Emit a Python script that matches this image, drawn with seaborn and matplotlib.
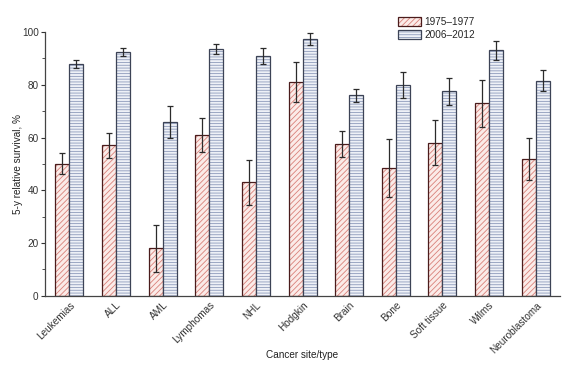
import pandas as pd
import numpy as np
import matplotlib
matplotlib.use("Agg")
import matplotlib.pyplot as plt
import matplotlib.colors as mcolors
from matplotlib.ticker import MultipleLocator
import seaborn as sns

# =====================================================
# Data
# =====================================================

sites = [
    "Leukemias", "ALL", "AML", "Lymphomas", "NHL", "Hodgkin",
    "Brain", "Bone", "Soft tissue", "Wilms", "Neuroblastoma"
]
periods = ["1975\u20131977", "2006\u20132012"]

surv_1975 = [50, 57, 18, 61, 43, 81, 57.5, 48.5, 58, 73, 52]
err_1975 = [4, 4.7, 9, 6.3, 8.5, 7.5, 5, 11, 8.5, 9, 8]

surv_2006 = [88, 92.4, 66, 93.5, 91, 97.5, 76, 80, 77.5, 93, 81.5]
err_2006 = [1.5, 1.5, 6, 2, 3, 2.3, 2.5, 5, 5, 3.5, 4]

df = pd.DataFrame({
    "site": sites * 2,
    "period": [periods[0]] * len(sites) + [periods[1]] * len(sites),
    "survival": surv_1975 + surv_2006,
    "err": err_1975 + err_2006,
})

# =====================================================
# Style
# =====================================================

sns.set_theme(style="white")
plt.rcParams["font.family"] = ["Liberation Sans", "DejaVu Sans"]
plt.rcParams["hatch.linewidth"] = 0.6

fills = ["#fbebe8", "#eef1f7"]
hatch_cols = ["#d9817a", "#8e9bbb"]
edge_cols = ["#4a1c1c", "#3c4356"]
hatches = ["//////", "------"]

fig = plt.figure(figsize=(5.66, 3.68), dpi=100)
ax = fig.add_axes([0.0795, 0.196, 0.91, 0.717])

sns.barplot(
    data=df,
    x="site",
    y="survival",
    hue="period",
    order=sites,
    hue_order=periods,
    errorbar=None,
    width=0.6,
    gap=0,
    palette=fills,
    saturation=1,
    ax=ax,
)

# hatch styling + error bars from the drawn bar positions
errs = [err_1975, err_2006]
bar_containers = list(ax.containers)
for i, container in enumerate(bar_containers):
    xs = []
    ys = []
    for bar in container.patches:
        bar.set_facecolor(fills[i])
        bar.set_edgecolor(edge_cols[i])
        bar.set_linewidth(0.9)
        bar.set_hatch(hatches[i])
        bar._hatch_color = mcolors.to_rgba(hatch_cols[i])
        xs.append(bar.get_x() + bar.get_width() / 2)
        ys.append(bar.get_height())
    ax.errorbar(
        xs, ys, yerr=errs[i],
        fmt="none", ecolor="#2b2b2b",
        elinewidth=0.9, capsize=2, capthick=0.9
    )

ax.set_ylim(0, 100)
ax.set_xlim(-0.52, len(sites) - 0.48)
ax.yaxis.set_major_locator(MultipleLocator(20))
ax.yaxis.set_minor_locator(MultipleLocator(10))

ax.tick_params(axis="y", which="major", direction="out", length=3,
               width=0.8, left=True, labelsize=7.2, colors="#333333", pad=1.5)
ax.tick_params(axis="y", which="minor", direction="out", length=2,
               width=0.6, left=True, colors="#333333")
ax.tick_params(axis="x", length=0, labelsize=7.2, colors="#333333", pad=3)

plt.setp(ax.get_xticklabels(), rotation=45, ha="right",
         rotation_mode="anchor")

for side in ["top", "right"]:
    ax.spines[side].set_visible(False)
for side in ["left", "bottom"]:
    ax.spines[side].set_color("#444444")
    ax.spines[side].set_linewidth(0.9)

ax.set_xlabel("Cancer site/type", fontsize=7.2, color="#222222")
ax.xaxis.set_label_coords(0.5, -0.205)
ax.set_ylabel("5-y relative survival, %", fontsize=7.2, color="#222222")
ax.yaxis.set_label_coords(-0.042, 0.5)

leg = ax.legend(
    loc="upper left",
    bbox_to_anchor=(0.677, 1.071),
    frameon=False,
    fontsize=7.2,
    handlelength=2.3,
    handleheight=1.0,
    handletextpad=0.4,
    labelspacing=0.25,
    borderaxespad=0,
)
for i, h in enumerate(leg.legend_handles):
    h.set_facecolor(fills[i])
    h.set_edgecolor(edge_cols[i])
    h.set_hatch(hatches[i])
    h._hatch_color = mcolors.to_rgba(hatch_cols[i])
    h.set_linewidth(0.9)

fig.savefig("out.png", dpi=100)
